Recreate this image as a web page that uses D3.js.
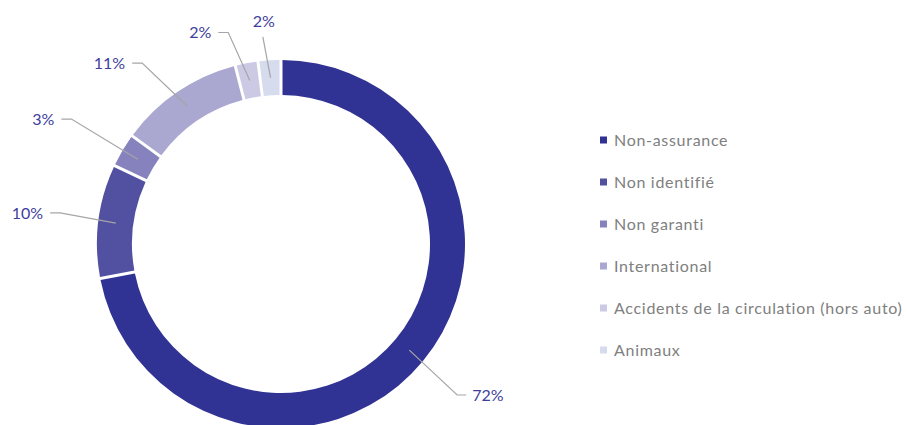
<!DOCTYPE html>
<html>
<head>
<meta charset="utf-8">
<script src="https://cdn.jsdelivr.net/npm/d3@7"></script>
<style>
  html, body { margin: 0; padding: 0; background: #fff; overflow: hidden; }
  svg { display: block; }
</style>
</head>
<body>
<svg id="chart" width="907" height="425"></svg>
<script>
// Répartition des dossiers par catégorie
const categories = [
  "Non-assurance",
  "Non identifié",
  "Non garanti",
  "International",
  "Accidents de la circulation (hors auto)",
  "Animaux"
];
const shares = [72, 10, 3, 11, 2, 2];
const valueLabels = ["72%", "10%", "3%", "11%", "2%", "2%"];
const colors = ["#313394", "#5150a1", "#8682bd", "#aaa7d1", "#cbc9e4", "#d6dbee"];

// Layout
const W = 907, H = 425;
const cx = 281, cy = 244;
const outerR = 184, innerR = 149;
// leader-line elbow: distance from the centre and angular nudge (degrees)
const elbowR = [232, 223, 244, 228, 218, 208];
const elbowNudge = [1, 0.8, 0.2, -3.3, -3.2, -1.4];
const legX = 600, legY0 = 140, legStep = 42;

const svg = d3.select("#chart");
const g = svg.append("g").attr("transform", `translate(${cx},${cy})`);

const data = categories.map((c, i) => ({ name: c, value: shares[i], label: valueLabels[i], color: colors[i], i }));

const pie = d3.pie().value(d => d.value).sort(null);
const arcs = pie(data);

const arc = d3.arc()
  .innerRadius(innerR)
  .outerRadius(outerR)
  .padAngle(3 / Math.sqrt(innerR * innerR + outerR * outerR));

g.selectAll("path.slice")
  .data(arcs)
  .join("path")
  .attr("class", "slice")
  .attr("d", arc)
  .attr("fill", d => d.data.color);

// Leader lines and value labels
const polar = (a, r) => [Math.sin(a) * r, -Math.cos(a) * r];
const midR = (innerR + outerR) / 2;

arcs.forEach(d => {
  const a = (d.startAngle + d.endAngle) / 2;
  const anchor = polar(a, midR);
  const elbow = polar(a + elbowNudge[d.data.i] * Math.PI / 180, elbowR[d.data.i]);
  const right = Math.sin(a) > 0;
  const nearTop = Math.abs(elbow[0]) < 25;
  let pts, tx, ty, anchorText;
  if (nearTop) {
    pts = [anchor, elbow];
    tx = elbow[0] + 1; ty = elbow[1] - 15; anchorText = "middle";
  } else {
    const end = [elbow[0] + (right ? 9 : -10), elbow[1]];
    pts = [anchor, elbow, end];
    tx = end[0] + (right ? 6 : -7); ty = end[1]; anchorText = right ? "start" : "end";
  }
  g.append("polyline")
    .attr("points", pts.map(p => p.join(",")).join(" "))
    .attr("fill", "none")
    .attr("stroke", "#a6a6a6")
    .attr("stroke-width", 1.2);
  g.append("text")
    .attr("x", tx)
    .attr("y", ty)
    .attr("dy", "0.35em")
    .attr("text-anchor", anchorText)
    .attr("font-family", "Lato, 'Open Sans', sans-serif")
    .attr("font-size", 16)
    .attr("fill", "#3e3e9c")
    .text(d.data.label);
});

// Legend
const leg = svg.append("g");
const items = leg.selectAll("g.item")
  .data(data)
  .join("g")
  .attr("class", "item")
  .attr("transform", (d, i) => `translate(${legX},${legY0 + i * legStep})`);

items.append("rect")
  .attr("x", 0).attr("y", -3.5)
  .attr("width", 7).attr("height", 7)
  .attr("fill", d => d.color);

items.append("text")
  .attr("x", 14)
  .attr("y", 0)
  .attr("dy", "0.35em")
  .attr("font-family", "Lato, 'Open Sans', sans-serif")
  .attr("font-size", 16)
  .attr("letter-spacing", 0.7)
  .attr("fill", "#808080")
  .text(d => d.name);
</script>
</body>
</html>
